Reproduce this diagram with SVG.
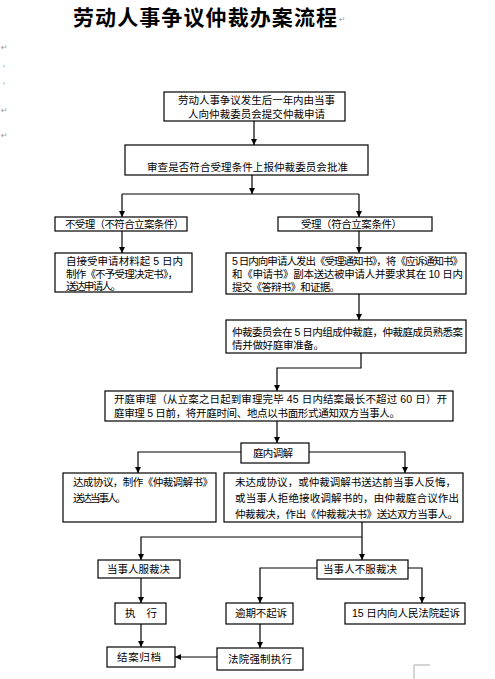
<svg xmlns="http://www.w3.org/2000/svg" width="495" height="679" viewBox="0 0 495 679">
<style>
.bg{fill:#ffffff}
.box{fill:#ffffff;stroke:#000000;stroke-width:1.2}
.t{font-family:"Liberation Sans","Noto Sans CJK SC",sans-serif;font-size:10.5px;fill:#000000}
.title{font-family:"Liberation Sans","Noto Sans CJK SC",sans-serif;font-size:21px;font-weight:bold;fill:#000000}
.mark{font-family:"DejaVu Sans",sans-serif;font-size:8px;fill:#999999}
.con{fill:none;stroke:#000000;stroke-width:1.2}
.crop{fill:none;stroke:#aaaaaa;stroke-width:1}
</style>
<defs>
<marker id="arr" markerUnits="userSpaceOnUse" markerWidth="7" markerHeight="7" refX="6" refY="3" orient="auto">
<path d="M0,0 L6,3 L0,6 z" fill="#000000"/>
</marker>
</defs>
<rect class="bg" x="0" y="0" width="495" height="679"/>

<g id="title">
<text class="title" x="73" y="25" textLength="264" lengthAdjust="spacing">劳动人事争议仲裁办案流程</text>
<text class="mark" x="339" y="22">↵</text>
</g>
<g id="marks">
<text class="mark" x="1" y="50">↵</text>
<text class="mark" x="3" y="72">'</text>
<text class="mark" x="3" y="89">'</text>
<text class="mark" x="1" y="113">↵</text>
<text class="mark" x="1" y="138">↵</text>
<path class="crop" d="M414,679 V665 H430"/>
</g>

<g id="connectors">
<path class="con" d="M254,121 V145" marker-end="url(#arr)"/>
<path class="con" d="M252,175 V194" marker-end="url(#arr)"/>
<path class="con" d="M122,194 H359"/>
<path class="con" d="M122,194 V217" marker-end="url(#arr)"/>
<path class="con" d="M359,194 V217" marker-end="url(#arr)"/>
<path class="con" d="M122,231 V253" marker-end="url(#arr)"/>
<path class="con" d="M359,231 V253" marker-end="url(#arr)"/>
<path class="con" d="M359,294 V320" marker-end="url(#arr)"/>
<path class="con" d="M361,353 V368 H277 V391" marker-end="url(#arr)"/>
<path class="con" d="M277,421 V443" marker-end="url(#arr)"/>
<path class="con" d="M241,452 H138 V473" marker-end="url(#arr)"/>
<path class="con" d="M309,452 H405 V473" marker-end="url(#arr)"/>
<path class="con" d="M362,522 V560" marker-end="url(#arr)"/>
<path class="con" d="M362,537 H141 V560" marker-end="url(#arr)"/>
<path class="con" d="M317,568 H260 V603" marker-end="url(#arr)"/>
<path class="con" d="M408,568 H422 V603" marker-end="url(#arr)"/>
<path class="con" d="M141,578 V603" marker-end="url(#arr)"/>
<path class="con" d="M141,624 V647" marker-end="url(#arr)"/>
<path class="con" d="M260,624 V648" marker-end="url(#arr)"/>
<path class="con" d="M217,657 H175" marker-end="url(#arr)"/>
</g>

<g id="n-apply">
<rect class="box" x="164" y="92" width="181" height="29"/>
<text class="t" x="178" y="104" textLength="157" lengthAdjust="spacing">劳动人事争议发生后一年内由当事</text>
<text class="t" x="188" y="118" textLength="137" lengthAdjust="spacing">人向仲裁委员会提交仲裁申请</text>
</g>

<g id="n-review">
<rect class="box" x="125" y="145" width="243" height="30"/>
<text class="t" x="147" y="171" textLength="201" lengthAdjust="spacing">审查是否符合受理条件上报仲裁委员会批准</text>
</g>

<g id="n-reject">
<rect class="box" x="55" y="217" width="132" height="14"/>
<text class="t" x="65" y="228" textLength="119" lengthAdjust="spacing">不受理（不符合立案条件）</text>
</g>

<g id="n-accept">
<rect class="box" x="278" y="217" width="154" height="14"/>
<text class="t" x="301" y="228" textLength="101" lengthAdjust="spacing">受理（符合立案条件）</text>
</g>

<g id="n-reject-doc">
<rect class="box" x="55" y="253" width="137" height="39"/>
<text class="t" x="66" y="265" textLength="117" lengthAdjust="spacing">自接受申请材料起 5 日内</text>
<text class="t" x="66" y="277.5" textLength="112" lengthAdjust="spacing">制作《不予受理决定书》，</text>
<text class="t" x="66" y="290" textLength="55" lengthAdjust="spacing">送达申请人。</text>
</g>

<g id="n-notice">
<rect class="box" x="226" y="253" width="240" height="41"/>
<text class="t" x="232" y="265" textLength="231" lengthAdjust="spacing">5 日内向申请人发出《受理通知书》，将《应诉通知书》</text>
<text class="t" x="232" y="278" textLength="231" lengthAdjust="spacing">和《申请书》副本送达被申请人并要求其在 10 日内</text>
<text class="t" x="232" y="291" textLength="108" lengthAdjust="spacing">提交《答辩书》和证据。</text>
</g>

<g id="n-tribunal">
<rect class="box" x="226" y="320" width="240" height="33"/>
<text class="t" x="232" y="335.5" textLength="231" lengthAdjust="spacing">仲裁委员会在 5 日内组成仲裁庭，仲裁庭成员熟悉案</text>
<text class="t" x="232" y="349" textLength="92" lengthAdjust="spacing">情并做好庭审准备。</text>
</g>

<g id="n-hearing">
<rect class="box" x="105" y="391" width="348" height="30"/>
<text class="t" x="114" y="403" textLength="333" lengthAdjust="spacing">开庭审理（从立案之日起到审理完毕 45 日内结案最长不超过 60 日）开</text>
<text class="t" x="114" y="417" textLength="286" lengthAdjust="spacing">庭审理 5 日前，将开庭时间、地点以书面形式通知双方当事人。</text>
</g>

<g id="n-mediation">
<rect class="box" x="241" y="443" width="68" height="20"/>
<text class="t" x="253" y="457" textLength="40" lengthAdjust="spacing">庭内调解</text>
</g>

<g id="n-agree">
<rect class="box" x="63" y="473" width="153" height="49"/>
<text class="t" x="73" y="486" textLength="140" lengthAdjust="spacing">达成协议，制作《仲裁调解书》</text>
<text class="t" x="73" y="502" textLength="53" lengthAdjust="spacing">送达当事人。</text>
</g>

<g id="n-disagree">
<rect class="box" x="224" y="473" width="239" height="49"/>
<text class="t" x="235" y="486" textLength="221" lengthAdjust="spacing">未达成协议，或仲裁调解书送达前当事人反悔，</text>
<text class="t" x="235" y="502" textLength="224" lengthAdjust="spacing">或当事人拒绝接收调解书的，由仲裁庭合议作出</text>
<text class="t" x="235" y="518" textLength="223" lengthAdjust="spacing">仲裁裁决，作出《仲裁裁决书》送达双方当事人。</text>
</g>

<g id="n-accept-award">
<rect class="box" x="98" y="560" width="82" height="18"/>
<text class="t" x="107" y="573" textLength="63" lengthAdjust="spacing">当事人服裁决</text>
</g>

<g id="n-reject-award">
<rect class="box" x="317" y="560" width="91" height="19"/>
<text class="t" x="323" y="573" textLength="74" lengthAdjust="spacing">当事人不服裁决</text>
</g>

<g id="n-execute">
<rect class="box" x="115" y="603" width="51" height="21"/>
<text class="t" x="125" y="617" textLength="32" lengthAdjust="spacing">执　行</text>
</g>

<g id="n-overdue">
<rect class="box" x="226" y="603" width="67" height="21"/>
<text class="t" x="235" y="617" textLength="52" lengthAdjust="spacing">逾期不起诉</text>
</g>

<g id="n-sue">
<rect class="box" x="345" y="603" width="120" height="21"/>
<text class="t" x="352" y="617" textLength="108" lengthAdjust="spacing">15 日内向人民法院起诉</text>
</g>

<g id="n-archive">
<rect class="box" x="107" y="647" width="68" height="20"/>
<text class="t" x="117" y="661" textLength="44" lengthAdjust="spacing">结案归档</text>
</g>

<g id="n-enforce">
<rect class="box" x="217" y="648" width="86" height="22"/>
<text class="t" x="228" y="663" textLength="64" lengthAdjust="spacing">法院强制执行</text>
</g>
</svg>
